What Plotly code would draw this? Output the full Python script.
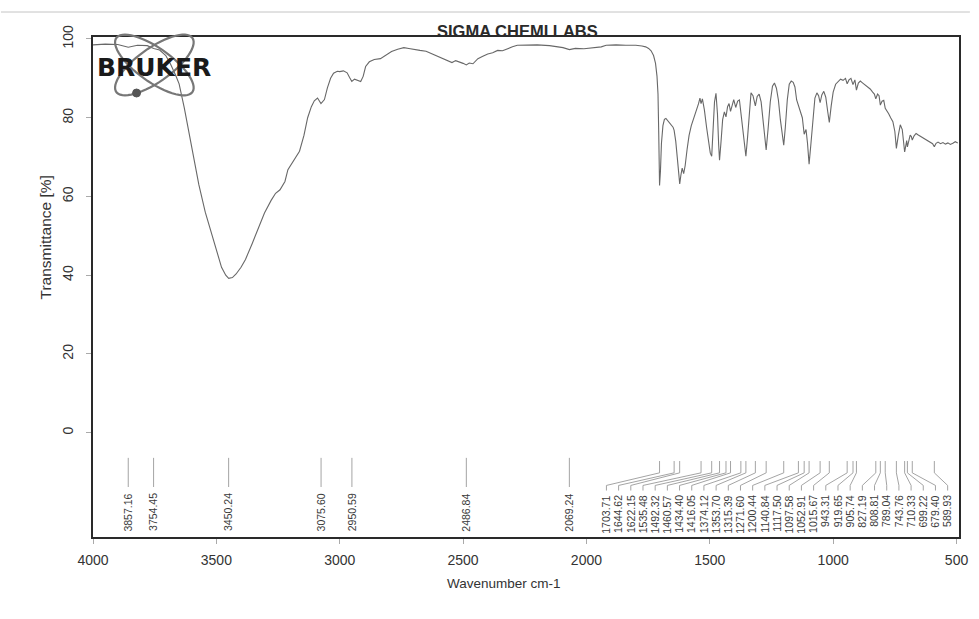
import numpy as np
import plotly.graph_objects as go

# ---------------- data ----------------
wn1 = [4000, 3950, 3900, 3857, 3820, 3780, 3754, 3730, 3705, 3685, 3665, 3651, 3630, 3611, 3590,
       3571, 3545, 3519, 3500, 3479, 3462, 3450, 3435, 3420, 3400, 3382, 3355, 3330, 3305, 3278,
       3260, 3242, 3222, 3210, 3185, 3163, 3145, 3130, 3115, 3103]
tr1 = [98.5, 98.7, 98.6, 97.9, 98.4, 98.3, 97.6, 97.2, 95.8, 93.5, 90.8, 88.6, 82.5, 76, 69,
       63, 56, 50.5, 46, 42, 40, 39.2, 39.4, 40.3, 42, 44, 48, 52, 55.8, 59,
       60.8, 61.7, 63.8, 66.8, 69.5, 71.5, 75.5, 80, 82.8, 84.3]

wn2 = [3090, 3076, 3062, 3050, 3037, 3025, 3010, 3000, 2985, 2970, 2960, 2951, 2940, 2930, 2915,
       2905, 2895, 2880, 2860, 2835, 2815, 2790, 2765, 2740, 2720, 2700, 2675, 2650, 2625, 2600,
       2580, 2560, 2545, 2530, 2515, 2500, 2487, 2475, 2460, 2440, 2420, 2400, 2380, 2360, 2340,
       2320, 2300, 2280, 2250, 2200, 2150, 2120, 2095, 2069, 2045, 2010, 1970, 1940, 1920, 1880,
       1840, 1800, 1775, 1760]
tr2 = [85.0, 83.6, 84.6, 87.6, 90.0, 91.3, 91.8, 91.7, 91.9, 91.4, 90.2, 89.2, 89.8, 89.5, 89.2,
       90.5, 93.0, 94.2, 94.8, 95.0, 95.9, 96.8, 97.4, 97.8, 97.6, 97.3, 97.1, 96.9, 96.2, 95.4,
       94.8, 94.3, 94.0, 94.5, 94.2, 93.8, 93.4, 93.9, 93.7, 95.0, 95.6, 96.2, 96.5, 97.1, 97.0,
       97.6, 98.0, 98.4, 98.5, 98.5, 98.3, 98.0, 97.8, 97.3, 97.6, 97.5, 97.7, 98.0, 98.4, 98.5,
       98.4, 98.4, 98.2, 98.0]

wn3 = [1748, 1738, 1728, 1720, 1714, 1710, 1707, 1703.7, 1700, 1696, 1690, 1684, 1678, 1670, 1662,
       1655, 1649, 1644.6, 1638, 1632, 1627, 1622, 1617, 1612, 1606, 1600, 1592, 1584, 1575, 1565,
       1555, 1546, 1540, 1535.5, 1530, 1522, 1513, 1505, 1498, 1492.3, 1487, 1481, 1475, 1469, 1464,
       1460.6, 1455, 1448, 1441, 1434.4, 1428, 1422, 1416, 1410, 1403, 1395, 1387, 1380, 1374, 1366,
       1359, 1353.7, 1347, 1340, 1333]
tr3 = [97.6, 97.0, 95.8, 93.8, 90.5, 86.0, 76.0, 62.8, 66.5, 73.5, 78.0, 79.6, 79.8, 79.2, 78.6,
       78.3, 77.6, 76.8, 74.0, 70.0, 65.5, 63.2, 65.5, 67.2, 65.8, 67.8, 72.0, 75.5, 78.0, 79.8,
       81.5, 83.5, 85.0, 83.6, 84.8, 82.0, 77.5, 73.5, 71.0, 70.2, 76.5, 84.0, 86.2, 81.0, 73.0,
       69.2, 73.5, 79.5, 81.5, 80.2, 82.8, 83.6, 81.6, 83.4, 84.6, 82.6, 84.2, 84.5, 81.0, 76.0,
       71.5, 70.2, 75.0, 82.0, 86.3]

wn4 = [1325, 1320, 1315.4, 1308, 1300, 1292, 1285, 1278, 1271.6, 1264, 1255, 1246, 1238, 1230, 1222,
       1214, 1206, 1200.4, 1194, 1186, 1178, 1170, 1162, 1155, 1148, 1140.8, 1133, 1125, 1117.5, 1110,
       1104, 1097.6, 1090, 1082, 1074, 1066, 1059, 1052.9, 1046, 1038, 1030, 1022, 1015.7, 1008]
tr4 = [85.6, 84.5, 83.0, 85.4, 86.0, 84.0, 79.5, 74.5, 71.8, 77.0, 84.0, 88.0, 88.8, 87.5, 84.5,
       79.5, 75.0, 73.0, 77.5, 84.5, 88.5, 89.3, 89.0, 87.8, 84.5, 83.2, 82.0, 80.0, 75.8, 77.0,
       73.5, 68.2, 73.5, 80.5, 85.0, 86.3, 85.6, 83.8, 85.8, 86.7, 85.2, 81.5, 78.8, 83.0]

wn5 = [1000, 990, 980, 970, 960, 950, 943.3, 936, 928, 919.7, 912, 905.7, 898, 890, 880,
       870, 860, 850, 840, 833, 827.2, 820, 814, 808.8, 802, 795, 789, 782, 775, 767,
       758, 750, 743.8, 736, 728, 720, 714, 710.3, 706, 702, 699.2, 694, 688, 683, 679.4,
       672, 664, 655, 645, 635, 625, 615, 605, 597, 590, 583, 575, 565, 555, 545,
       535, 525, 515, 505, 495]
tr5 = [86.5, 88.5, 89.2, 89.8, 89.5, 90.0, 88.6, 89.6, 90.0, 88.4, 89.6, 87.0, 88.8, 89.3, 88.8,
       88.3, 88.0, 87.3, 86.5, 86.0, 84.8, 86.0, 85.6, 83.2, 84.2, 84.4, 82.4, 81.8, 81.0, 80.0,
       79.0, 76.5, 72.2, 75.5, 78.2, 77.0, 74.0, 71.3, 72.8, 74.2, 72.6, 74.5, 75.6, 75.2, 74.3,
       75.4, 76.0, 75.6, 75.2, 74.8, 74.6, 74.2, 73.8, 73.4, 72.6, 73.5, 73.8, 73.4, 73.7, 73.3,
       73.6, 73.2, 73.5, 73.9, 73.6]

left_peaks = [3857.16, 3754.45, 3450.24, 3075.60, 2950.59, 2486.84, 2069.24]
right_peaks = [1703.71, 1644.62, 1622.15, 1535.48, 1492.32, 1460.57, 1434.40, 1416.05, 1374.12,
               1353.70, 1315.39, 1271.60, 1200.44, 1140.84, 1117.50, 1097.58, 1052.91, 1015.67,
               943.31, 919.65, 905.74, 827.19, 808.81, 789.04, 743.76, 710.33, 699.22, 679.40, 589.93]

x_ticks = [4000, 3500, 3000, 2500, 2000, 1500, 1000, 500]
y_ticks = [0, 20, 40, 60, 80, 100]

wn = wn1 + wn2 + wn3 + wn4 + wn5
tr = tr1 + tr2 + tr3 + tr4 + tr5

# ---------------- layout geometry ----------------
W, H = 979, 619
L, R, T, B = 93, 11, 37, 82
XR = [4000, 490]
YR = [-26.5, 100.5]
PW, PH = W - L - R, H - T - B


def pxx(x):
    return (x - L) / PW


def pxy(y):
    return (H - B - y) / PH


FONT = "Liberation Sans, Arial, sans-serif"
fig = go.Figure()

fig.add_trace(go.Scatter(x=wn, y=tr, mode="lines", line=dict(color="#686868", width=1.1),
                         hoverinfo="skip", showlegend=False))

# peak marker lines
lx, ly = [], []
for p in left_peaks:
    lx += [p, p, None]
    ly += [-6.4, -13.8, None]
label_pos = list(np.linspace(1919, 536, len(right_peaks)))
for p, q in zip(right_peaks, label_pos):
    lx += [p, p, q, q, None]
    ly += [-7.2, -10.2, -13.4, -14.7, None]
fig.add_trace(go.Scatter(x=lx, y=ly, mode="lines", line=dict(color="#9a9a9a", width=0.9),
                         hoverinfo="skip", showlegend=False))

LBL = dict(family=FONT, size=10.5, color="#3a3a3a")
ann = []
for p in left_peaks:
    ann.append(dict(x=p, y=-14.9, text=f"{p:.2f}", textangle=-90, showarrow=False,
                    xanchor="center", yanchor="top", font=LBL))
for p, q in zip(right_peaks, label_pos):
    ann.append(dict(x=q, y=-15.4, text=f"{p:.2f}", textangle=-90, showarrow=False,
                    xanchor="center", yanchor="top", font=LBL))

ann.append(dict(xref="paper", yref="paper", x=pxx(522), y=pxy(31), text="<b>SIGMA CHEMI LABS</b>",
                showarrow=False, xanchor="center", yanchor="middle",
                font=dict(family=FONT, size=16.5, color="#2a2a2a")))
ann.append(dict(xref="paper", yref="paper", x=pxx(45), y=pxy(237), text="Transmittance [%]",
                textangle=-90, showarrow=False, xanchor="center", yanchor="middle",
                font=dict(family=FONT, size=15.5, color="#333")))
ann.append(dict(xref="paper", yref="paper", x=pxx(508), y=pxy(583), text="Wavenumber cm-1",
                showarrow=False, xanchor="center", yanchor="middle",
                font=dict(family=FONT, size=13.5, color="#333")))
ann.append(dict(xref="paper", yref="paper", x=pxx(155), y=pxy(67), text="<b>BRUKER</b>",
                showarrow=False, xanchor="center", yanchor="middle",
                font=dict(family="DejaVu Sans", size=25, color="#1a1a1a")))

# logo ellipses
shapes = []
phi = np.linspace(0, 2 * np.pi, 60)
for ang in (np.deg2rad(35), np.deg2rad(-35)):
    cx, cy, a, b = 155, 65, 47, 17
    xs = cx + a * np.cos(phi) * np.cos(ang) - b * np.sin(phi) * np.sin(ang)
    ys = cy + a * np.cos(phi) * np.sin(ang) + b * np.sin(phi) * np.cos(ang)
    path = "M " + " L ".join(f"{pxx(x):.5f},{pxy(y):.5f}" for x, y in zip(xs, ys)) + " Z"
    shapes.append(dict(type="path", xref="paper", yref="paper", path=path,
                       line=dict(color="#777777", width=2.2)))
shapes.append(dict(type="circle", xref="paper", yref="paper",
                   x0=pxx(133), x1=pxx(141), y0=pxy(97), y1=pxy(89),
                   fillcolor="#555", line=dict(color="#555", width=1)))
# scan artefact line at top
shapes.append(dict(type="line", xref="paper", yref="paper", x0=pxx(0), x1=pxx(979),
                   y0=pxy(12), y1=pxy(12), line=dict(color="#c4c4c4", width=1)))

fig.update_layout(
    width=W, height=H, margin=dict(l=L, r=R, t=T, b=B),
    paper_bgcolor="white", plot_bgcolor="white",
    annotations=ann, shapes=shapes, showlegend=False,
    xaxis=dict(range=XR, tickvals=x_ticks, ticktext=[str(v) for v in x_ticks], ticks="outside",
               ticklen=5, tickcolor="#aaa", showline=True, linecolor="#2a2a2a", linewidth=1.6,
               mirror=True, showgrid=False, zeroline=False, ticklabelstandoff=4,
               tickfont=dict(family=FONT, size=14, color="#333")),
    yaxis=dict(range=YR, tickvals=y_ticks, ticktext=[str(v) for v in y_ticks], ticks="outside",
               ticklen=5, tickcolor="#aaa", showline=True, linecolor="#2a2a2a", linewidth=1.6,
               mirror=True, showgrid=False, zeroline=False, tickangle=-90, ticklabelstandoff=8,
               tickfont=dict(family=FONT, size=14, color="#333")),
)

fig.write_html("out.html", config={"displayModeBar": False},
               post_script="document.body.style.margin='0';")
